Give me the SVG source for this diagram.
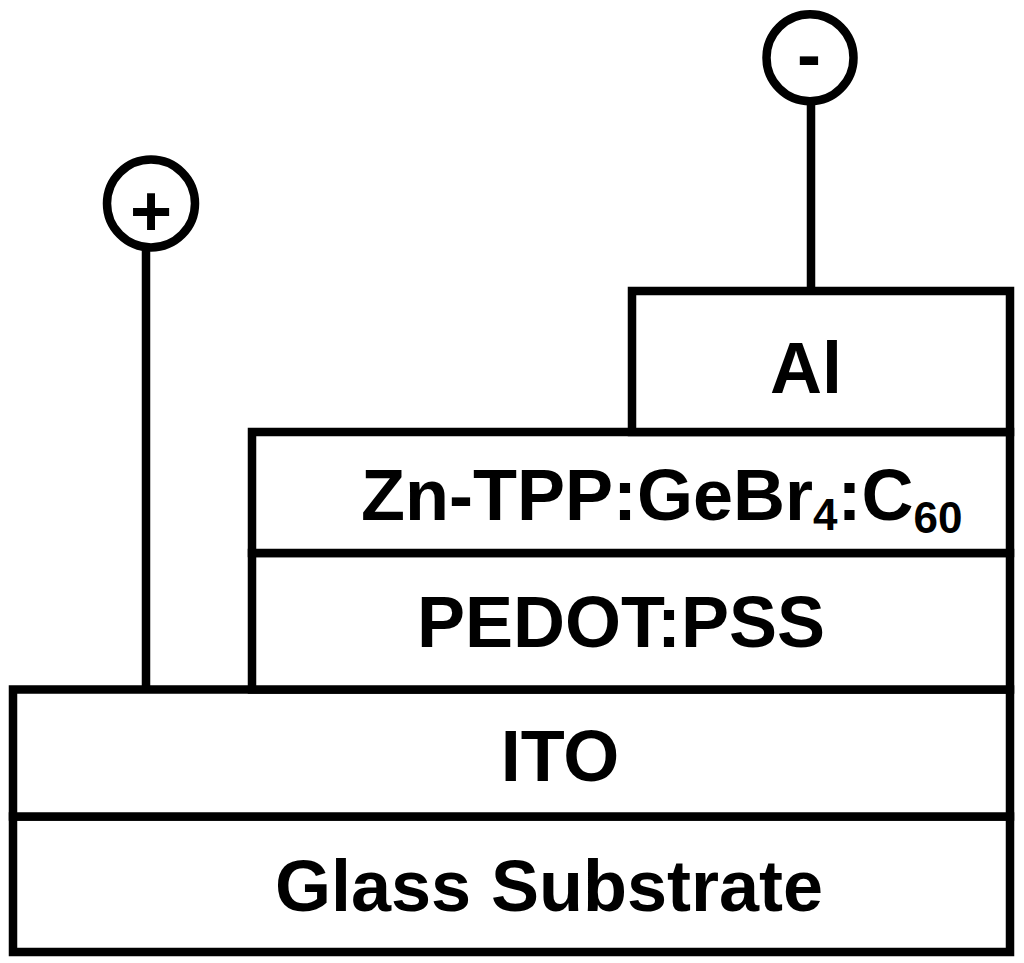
<svg xmlns="http://www.w3.org/2000/svg" width="1024" height="963" viewBox="0 0 1024 963">
<style>
.layer{fill:#fff;stroke:#000;stroke-width:8.5}
.wire{stroke:#000;stroke-width:8.5;fill:none}
.term{fill:#fff;stroke:#000;stroke-width:8.5}
.lbl{font-family:"Liberation Sans",Arial,sans-serif;font-weight:bold;font-size:72px;fill:#000}
</style>
<rect width="1024" height="963" fill="#fff"/>
<g id="glass"><rect class="layer" x="13" y="816.5" width="997" height="135.5"/><text class="lbl" x="549" y="911" text-anchor="middle">Glass Substrate</text></g>
<g id="ito"><rect class="layer" x="13" y="689.5" width="997" height="127"/><text class="lbl" x="560" y="781" text-anchor="middle">ITO</text></g>
<g id="pedot"><rect class="layer" x="252" y="553" width="758" height="136.5"/><text class="lbl" x="621" y="647" text-anchor="middle">PEDOT:PSS</text></g>
<g id="active"><rect class="layer" x="252" y="432" width="758" height="121"/><text class="lbl" x="361" y="520">Zn-TPP:GeBr<tspan font-size="44" dy="10">4</tspan><tspan dy="-10">:C</tspan><tspan font-size="44" dy="13">60</tspan></text></g>
<g id="al"><rect class="layer" x="632" y="291" width="378" height="141"/><text class="lbl" x="806" y="393" text-anchor="middle">Al</text></g>
<g id="connectors">
<line class="wire" x1="146" y1="248" x2="146" y2="689"/>
<line class="wire" x1="811" y1="100" x2="811" y2="291"/>
</g>
<g id="anode"><circle class="term" cx="151" cy="203.5" r="44"/><text class="lbl" x="151" y="235.5" text-anchor="middle">+</text></g>
<g id="cathode"><circle class="term" cx="810" cy="57.7" r="43.5"/><text class="lbl" x="809" y="79" text-anchor="middle">-</text></g>
</svg>
